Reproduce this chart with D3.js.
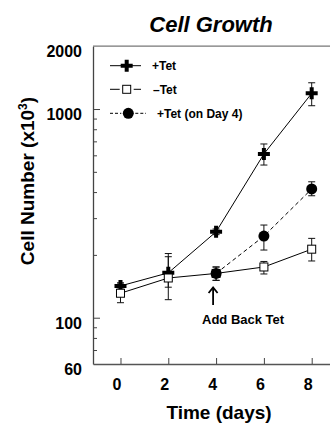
<!DOCTYPE html>
<html>
<head>
<meta charset="utf-8">
<script src="https://cdn.jsdelivr.net/npm/d3@7"></script>
<style>
  body { margin: 0; background: #fff; }
  svg { display: block; font-family: "Liberation Sans", Arial, sans-serif; }
</style>
</head>
<body>
<div id="chart"></div>
<script>
// data
const days = [0, 2, 4, 6, 8];
const plusTet = [142, 164, 258, 609, 1189];
const plusTetLo = [137, 140, 250, 539, 1037];
const plusTetHi = [147, 203, 266, 680, 1336];
const minusTet = [131, 155, 163, 175, 213];
const minusTetLo = [118, 122, 151, 162, 187];
const minusTetHi = [145, 196, 175, 186, 240];
const addBackDays = [4, 6, 8];
const addBack = [163, 246, 414];
const addBackLo = [151, 211, 384];
const addBackHi = [175, 278, 448];
const xTicks = [0, 2, 4, 6, 8];
const yMajor = [60, 100, 1000, 2000];
const yMinor = [70, 80, 90, 200, 300, 400, 500, 600, 700, 800, 900];
const legendLabels = ['+Tet', '\u2013Tet', '+Tet (on Day 4)'];

const width = 330, height = 423;
const svg = d3.select('#chart').append('svg')
  .attr('width', width)
  .attr('height', height);

const x = d3.scaleLinear().domain([-1.15, 9]).range([93, 335.6]);
const y = d3.scaleLog().domain([60, 2000]).range([364, 46.2]);

const series = [
  { key: 'plus', x: days, v: plusTet, lo: plusTetLo, hi: plusTetHi, dash: null },
  { key: 'minus', x: days, v: minusTet, lo: minusTetLo, hi: minusTetHi, dash: null },
  { key: 'add', x: addBackDays, v: addBack, lo: addBackLo, hi: addBackHi, dash: '4,3' }
];

// frame: top border
svg.append('line')
  .attr('x1', x.range()[0]).attr('x2', x.range()[1])
  .attr('y1', y(2000)).attr('y2', y(2000))
  .attr('stroke', '#777').attr('stroke-width', 1.2);

// y axis (ticks inward)
const yAxis = svg.append('g')
  .attr('transform', `translate(${x.range()[0]},0)`)
  .call(d3.axisLeft(y).tickValues(yMajor).tickSizeInner(-7).tickSizeOuter(0)
    .tickFormat(d3.format('d')).tickPadding(11));
yAxis.select('.domain').attr('stroke', '#444').attr('stroke-width', 1.3);
yAxis.selectAll('.tick line').attr('stroke', '#444');
yAxis.selectAll('.tick text')
  .attr('dy', '0.65em')
  .style('font-size', '16px').style('font-weight', 'bold').attr('fill', '#000');
yAxis.selectAll('.tick').filter(d => d === 2000 || d === 60).select('line').remove();

const yMinorAxis = svg.append('g')
  .attr('transform', `translate(${x.range()[0]},0)`)
  .call(d3.axisLeft(y).tickValues(yMinor).tickSizeInner(-4).tickSizeOuter(0).tickFormat(''));
yMinorAxis.select('.domain').remove();
yMinorAxis.selectAll('.tick line').attr('stroke', '#444');

// x axis (ticks inward)
const xAxis = svg.append('g')
  .attr('transform', `translate(0,${y(60)})`)
  .call(d3.axisBottom(x).tickValues(xTicks).tickSizeInner(-6).tickSizeOuter(0).tickPadding(15));
xAxis.select('.domain').attr('stroke', '#555').attr('stroke-width', 1.3);
xAxis.selectAll('.tick line').attr('stroke', '#444');
xAxis.selectAll('.tick text')
  .attr('dx', -4)
  .style('font-size', '16px').style('font-weight', 'bold').attr('fill', '#000');

// lines
const line = d3.line().x(d => x(d[0])).y(d => y(d[1]));
svg.selectAll('.series-line')
  .data(series)
  .join('path')
  .attr('class', 'series-line')
  .attr('d', s => line(s.x.map((d, i) => [d, s.v[i]])))
  .attr('fill', 'none')
  .attr('stroke', '#000')
  .attr('stroke-width', 1)
  .attr('stroke-dasharray', s => s.dash);

// error bars
const errs = series.flatMap(s => s.x.map((d, i) => ({ d, lo: s.lo[i], hi: s.hi[i] })));
const eb = svg.selectAll('.err').data(errs).join('g').attr('class', 'err')
  .attr('stroke', '#111').attr('stroke-width', 1);
eb.append('line')
  .attr('x1', e => x(e.d)).attr('x2', e => x(e.d))
  .attr('y1', e => y(e.hi)).attr('y2', e => y(e.lo));
eb.append('line')
  .attr('x1', e => x(e.d) - 3.5).attr('x2', e => x(e.d) + 3.5)
  .attr('y1', e => y(e.hi)).attr('y2', e => y(e.hi));
eb.append('line')
  .attr('x1', e => x(e.d) - 3.5).attr('x2', e => x(e.d) + 3.5)
  .attr('y1', e => y(e.lo)).attr('y2', e => y(e.lo));

// markers
const cross = d3.symbol().type(d3.symbolCross).size(80);
function drawMarker(g, key) {
  if (key === 'plus') {
    g.append('path').attr('d', cross).attr('fill', '#000');
  } else if (key === 'minus') {
    g.append('rect').attr('x', -4).attr('y', -4).attr('width', 8).attr('height', 8)
      .attr('fill', '#fff').attr('stroke', '#000').attr('stroke-width', 1);
  } else {
    g.append('circle').attr('r', 5.5).attr('fill', '#000');
  }
}
series.forEach(s => {
  svg.selectAll(`.mk-${s.key}`)
    .data(s.x.map((d, i) => [d, s.v[i]]))
    .join('g')
    .attr('class', `mk-${s.key}`)
    .attr('transform', d => `translate(${x(d[0])},${y(d[1])})`)
    .each(function() { drawMarker(d3.select(this), s.key); });
});

// legend: short line pieces either side of the marker
const legend = svg.append('g').attr('class', 'legend');
const rowY = [65.7, 89.3, 113.3];
const markX = [126.7, 126.7, 128.3];
const rows = legend.selectAll('.legend-row')
  .data(series)
  .join('g')
  .attr('class', 'legend-row')
  .attr('transform', (s, i) => `translate(0,${rowY[i]})`);
rows.each(function(s, i) {
  const g = d3.select(this);
  const m = markX[i];
  const gap = i === 0 ? 0 : 7;
  const segs = [[110, m - gap], [m + gap, i === 2 ? 146 : 141]];
  g.selectAll('line').data(segs).join('line')
    .attr('x1', d => d[0]).attr('x2', d => d[1])
    .attr('y1', 0).attr('y2', 0)
    .attr('stroke', '#000').attr('stroke-width', 1)
    .attr('stroke-dasharray', i === 2 ? '3,2' : null);
  const mk = g.append('g').attr('transform', `translate(${m},0)`);
  drawMarker(mk, s.key);
});
rows.append('text')
  .attr('x', (s, i) => [152, 153, 157][i])
  .attr('y', 4.5)
  .style('font-size', '12px').style('font-weight', 'bold')
  .text((s, i) => legendLabels[i]);

// annotation
svg.append('text')
  .attr('x', 202).attr('y', 324)
  .style('font-size', '13px').style('font-weight', 'bold')
  .text('Add Back Tet');
const ax = x(4) - 3;
svg.append('line')
  .attr('x1', ax).attr('x2', ax).attr('y1', 288).attr('y2', 305)
  .attr('stroke', '#000').attr('stroke-width', 1.8);
svg.append('path')
  .attr('d', `M${ax - 4.5},${293} L${ax},${287.5} L${ax + 4.5},${293}`)
  .attr('fill', 'none').attr('stroke', '#000').attr('stroke-width', 1.8);

// titles
svg.append('text')
  .attr('x', 211).attr('y', 31.5)
  .attr('text-anchor', 'middle')
  .style('font-size', '22px').style('font-weight', 'bold').style('font-style', 'italic')
  .text('Cell Growth');

svg.append('text')
  .attr('x', 219).attr('y', 419)
  .attr('text-anchor', 'middle')
  .style('font-size', '19px').style('font-weight', 'bold')
  .text('Time (days)');

const yl = svg.append('text')
  .attr('transform', 'translate(34,181) rotate(-90)')
  .attr('text-anchor', 'middle')
  .style('font-size', '19px').style('font-weight', 'bold');
yl.append('tspan').text('Cell Number (x10');
yl.append('tspan').attr('dy', -7).style('font-size', '12px').text('3');
yl.append('tspan').attr('dy', 7).text(')');
</script>
</body>
</html>
